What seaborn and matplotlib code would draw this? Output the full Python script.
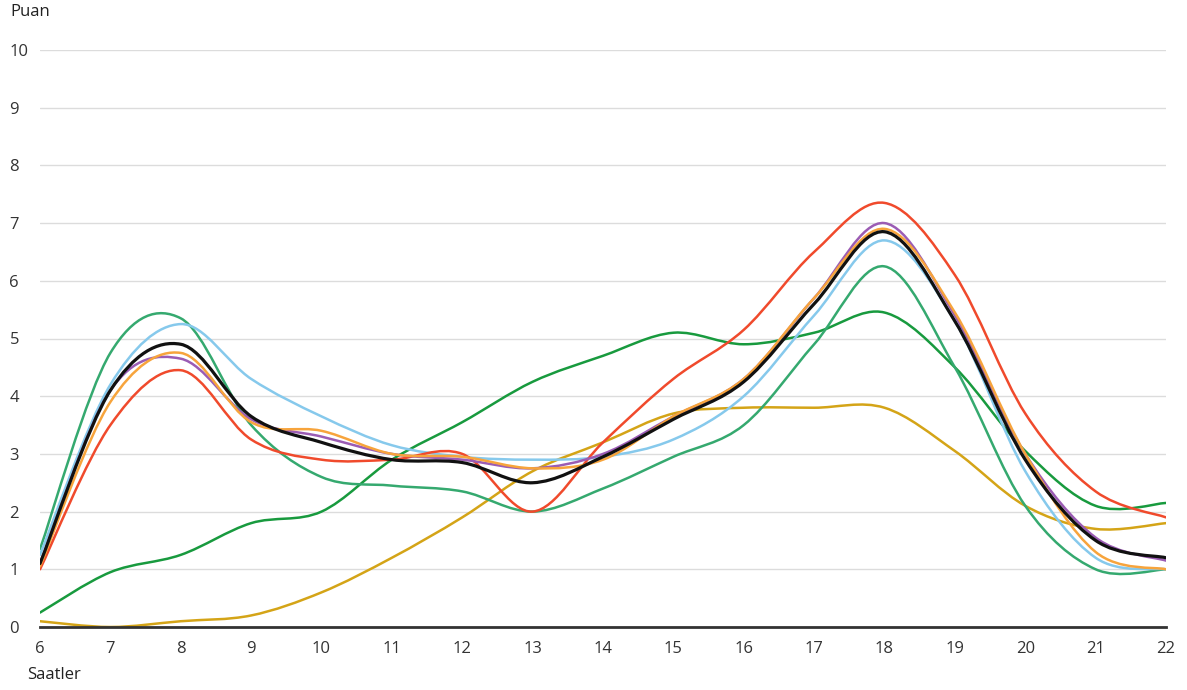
import numpy as np
import matplotlib
matplotlib.use("Agg")
import matplotlib.pyplot as plt
import seaborn as sns
from matplotlib.path import Path
from matplotlib.patches import PathPatch

# hours of the day
saatler = [6, 7, 8, 9, 10, 11, 12, 13, 14, 15, 16, 17, 18, 19, 20, 21, 22]

# scores per hour, one list per series
teal = [1.35, 4.75, 5.35, 3.5, 2.6, 2.45, 2.35, 2.0, 2.4, 2.95, 3.5, 4.9, 6.25, 4.5, 2.1, 1.0, 1.0]
mavi = [1.25, 4.2, 5.25, 4.3, 3.65, 3.15, 2.95, 2.9, 2.95, 3.25, 4.0, 5.4, 6.7, 5.3, 2.7, 1.2, 1.0]
turuncu = [1.05, 3.9, 4.75, 3.55, 3.4, 3.0, 2.95, 2.75, 2.9, 3.65, 4.3, 5.7, 6.9, 5.45, 3.0, 1.3, 1.0]
mor = [1.1, 4.1, 4.65, 3.6, 3.3, 3.0, 2.9, 2.75, 3.0, 3.65, 4.3, 5.7, 7.0, 5.4, 3.0, 1.55, 1.15]
kirmizi = [1.0, 3.5, 4.45, 3.25, 2.9, 2.9, 3.0, 2.0, 3.2, 4.3, 5.15, 6.5, 7.35, 6.1, 3.7, 2.35, 1.9]
koyu_yesil = [0.25, 0.95, 1.25, 1.8, 2.0, 2.9, 3.55, 4.25, 4.7, 5.1, 4.9, 5.1, 5.45, 4.5, 3.05, 2.1, 2.15]
altin = [0.1, 0.0, 0.1, 0.2, 0.6, 1.2, 1.9, 2.7, 3.2, 3.7, 3.8, 3.8, 3.8, 3.05, 2.1, 1.7, 1.8]
siyah = [1.1, 4.1, 4.9, 3.65, 3.2, 2.9, 2.85, 2.5, 2.95, 3.6, 4.25, 5.6, 6.85, 5.3, 2.9, 1.5, 1.2]

series = [
    (altin, "#d4a417", 1.8),
    (koyu_yesil, "#189a3e", 1.8),
    (teal, "#35a96f", 1.8),
    (mavi, "#86c9ec", 1.8),
    (kirmizi, "#f04a2c", 1.8),
    (mor, "#9b5cb4", 1.8),
    (turuncu, "#f7a43c", 1.8),
    (siyah, "#111111", 2.3),
]


def smooth_path(xs, ys):
    # catmull-rom style cubic bezier through the hourly points
    x = np.asarray(xs, float)
    y = np.asarray(ys, float)
    n = len(x)
    verts = [(x[0], y[0])]
    codes = [Path.MOVETO]
    for i in range(n - 1):
        i0 = max(i - 1, 0)
        i3 = min(i + 2, n - 1)
        c1 = (x[i] + (x[i + 1] - x[i0]) / 6, y[i] + (y[i + 1] - y[i0]) / 6)
        c2 = (x[i + 1] - (x[i3] - x[i]) / 6, y[i + 1] - (y[i3] - y[i]) / 6)
        verts += [c1, c2, (x[i + 1], y[i + 1])]
        codes += [Path.CURVE4] * 3
    return Path(verts, codes)


sns.set_theme(style="white")
plt.rcParams['font.family'] = ['Open Sans', 'DejaVu Sans']

fig = plt.figure(figsize=(11.87, 6.9), dpi=100)
ax = fig.add_axes([40 / 1187, 1 - 627 / 690, 1126 / 1187, 577 / 690])

for vals, col, lw in series:
    ax.add_patch(PathPatch(smooth_path(saatler, vals), facecolor="none",
                           edgecolor=col, linewidth=lw, capstyle="round",
                           joinstyle="round", zorder=3))

ax.set_xlim(6, 22)
ax.set_ylim(0, 10)
ax.set_xticks(saatler)
ax.set_yticks(range(0, 11))
ax.grid(axis="y", color="#dcdcdc", linewidth=1)
ax.grid(axis="x", visible=False)
sns.despine(ax=ax, left=True, top=True, right=True)
ax.spines["bottom"].set_color("#333333")
ax.spines["bottom"].set_linewidth(2)
ax.spines["bottom"].set_zorder(4)

ax.tick_params(axis="both", length=0, labelsize=12, labelcolor="#333333")
ax.tick_params(axis="x", pad=10)
ax.tick_params(axis="y", pad=22)
for lab in ax.get_yticklabels():
    lab.set_horizontalalignment("left")

fig.text(10 / 1187, 1 - 12 / 690, "Puan", fontsize=12, color="#222222",
         ha="left", va="center")
fig.text(27 / 1187, 1 - 675 / 690, "Saatler", fontsize=12, color="#222222",
         ha="left", va="center")

fig.savefig("out.png", dpi=100)
